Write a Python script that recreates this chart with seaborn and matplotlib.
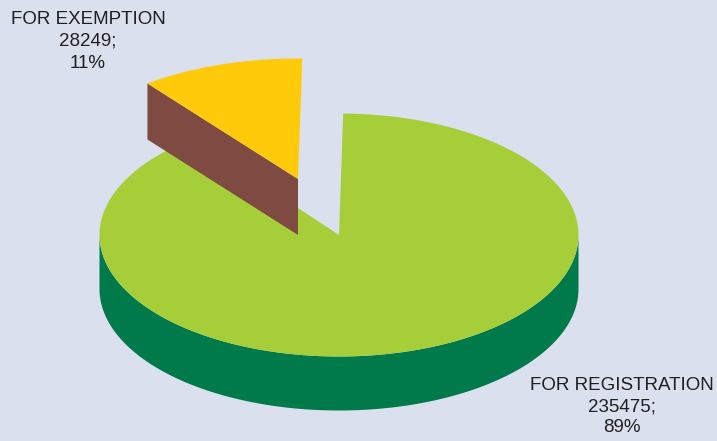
import numpy as np
import matplotlib
matplotlib.use("Agg")
import matplotlib.pyplot as plt
import seaborn as sns

categories = ["FOR REGISTRATION", "FOR EXEMPTION"]
counts = [235475, 28249]
percent_labels = ["89%", "11%"]

BG = "#DAE0EE"
TOP = ["#A6CE39", "#FFCA0A"]
SIDE = ["#007A4B", "#7E4A42"]

sns.set_theme(style="white")
plt.rcParams["font.family"] = ["Liberation Sans", "DejaVu Sans"]

W, H = 717, 441
fig = plt.figure(figsize=(W / 100, H / 100), dpi=100, facecolor=BG)
ax = fig.add_axes([0, 0, 1, 1])
ax.set_xlim(0, W)
ax.set_ylim(H, 0)
ax.axis("off")

# Disc geometry in pixels
CX, CY, RX, RY, DEPTH = 339, 235, 239.5, 121.5, 54
START = 89.0
# The pulled-out slice sits up and left of the centre and is drawn slightly nearer
ORIGIN = (298, 179)
SLICE_RX, SLICE_RY, SLICE_DEPTH = 247, 120.5, 56


def rim(t_deg, cx=CX, cy=CY, rx=RX, ry=RY):
    t = np.radians(t_deg)
    return cx + rx * np.cos(t), cy - ry * np.sin(t)


sweep = 360 * counts[1] / sum(counts)
small_start, small_end = START, START + sweep
big_start, big_end = small_end, START + 360

# Main slice: outer wall over the front half, then the top face
t = np.linspace(180, 360, 200)
x, y = rim(t)
ax.fill(np.r_[x, x[::-1]], np.r_[y, y[::-1] + DEPTH], color=SIDE[0], lw=0, zorder=1)
t = np.linspace(big_start, big_end, 400)
x, y = rim(t)
ax.fill(np.r_[CX, x], np.r_[CY, y], color=TOP[0], lw=0, zorder=2)

# Exploded slice: cut wall, then the top face
ox, oy = ORIGIN
px, py = rim(small_end, ox, oy, SLICE_RX, SLICE_RY)
ax.fill([ox, px, px, ox], [oy, py, py + SLICE_DEPTH, oy + SLICE_DEPTH],
        color=SIDE[1], lw=0, zorder=3)
t = np.linspace(small_start, small_end, 80)
x, y = rim(t, ox, oy, SLICE_RX, SLICE_RY)
ax.fill(np.r_[ox, x], np.r_[oy, y], color=TOP[1], lw=0, zorder=4)

ax.text(88, 41.5, f"{categories[1]}\n{counts[1]};\n{percent_labels[1]}", ha="center",
        va="center", fontsize=13.5, color="#231F20", linespacing=1.38)
ax.text(622, 406.5, f"{categories[0]}\n{counts[0]};\n{percent_labels[0]}", ha="center",
        va="center", fontsize=13.5, color="#231F20", linespacing=1.33)

fig.savefig("out.png", dpi=100, facecolor=BG)
